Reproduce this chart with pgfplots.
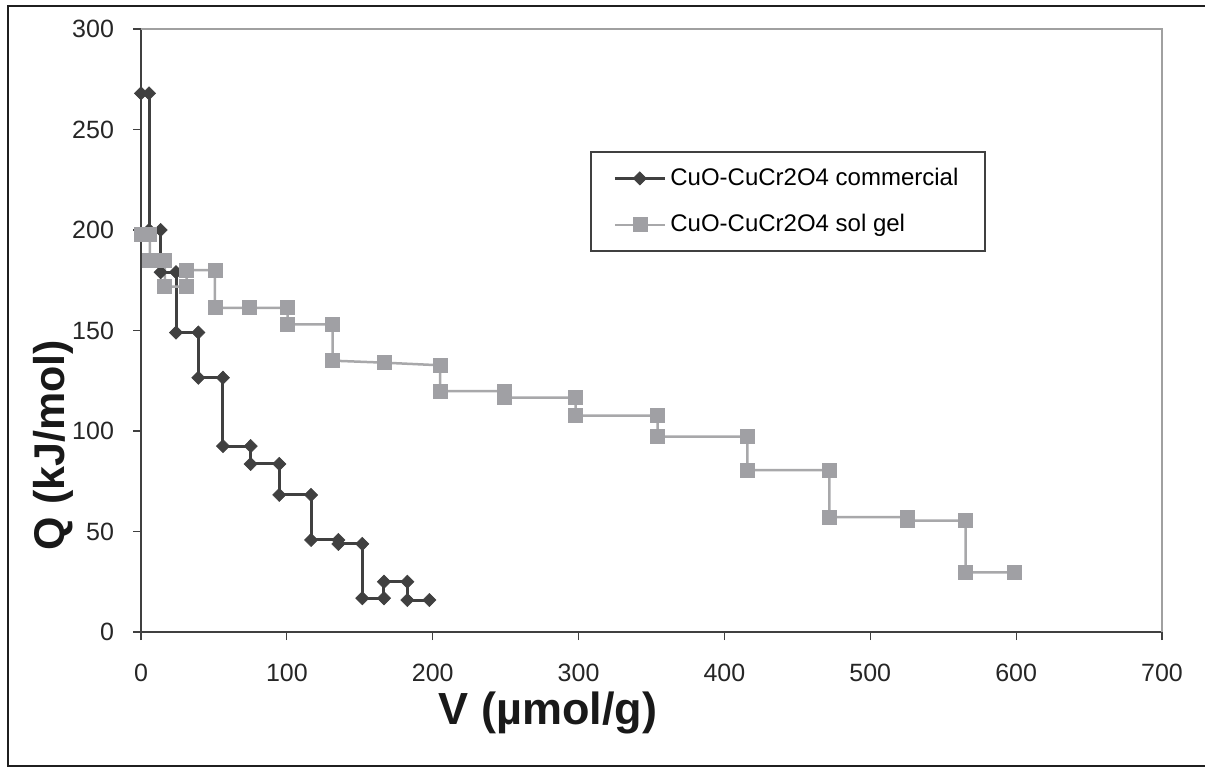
\documentclass[border=0pt]{standalone}
\usepackage{pgfplots}
\pgfplotsset{compat=1.18}
\usepackage{fontspec}
\setmainfont{Liberation Sans}
\definecolor{dark}{HTML}{404040}
\definecolor{lightm}{HTML}{A0A0A4}
\definecolor{lightl}{HTML}{A8A8AA}
\definecolor{framegray}{HTML}{A0A0A0}
\begin{document}
\begin{tikzpicture}
\useasboundingbox (0pt,0pt) rectangle (602.5pt,384pt);
\draw[line width=1.2pt, black!88] (4pt,1pt) rectangle (606pt,381pt);
\begin{axis}[
  at={(70.5pt,68pt)}, anchor=south west,
  scale only axis, width=510.5pt, height=301.5pt,
  xmin=0, xmax=700, ymin=0, ymax=300,
  xtick={0,100,...,700}, ytick={0,50,...,300},
  axis x line*=bottom, axis y line*=left,
  axis line style={-, draw=dark, line width=1pt},
  tick align=outside, major tick length=4pt,
  tick style={draw=dark, line width=0.6pt},
  minor tick num=0,
  /pgf/number format/assume math mode=true,
  ticklabel style={font=\fontsize{12.5}{14}\selectfont, text=black!85},
  xticklabel style={yshift=-8.5pt},
  yticklabel style={xshift=-6pt},
  clip=false,
  legend style={at={(rel axis cs:0.4407,0.803)}, anchor=north west, draw=none, fill=none,
    font=\fontsize{12}{14}\selectfont, row sep=9pt, inner xsep=11pt, inner ysep=8pt,
    cells={anchor=west}},
  legend image code/.code={\draw[mark repeat=2,mark phase=2] plot coordinates {(0pt,0pt) (12.5pt,0pt) (25pt,0pt)};},
]
\addplot[color=dark, line width=1.5pt, mark=diamond*, mark size=3.3pt, mark options={xscale=1.33, fill=dark, draw=dark, line width=0.3pt}]
coordinates {
(0,268) (5.5,268) (5.5,200) (13.5,200) (13.5,179) (24,179) (24,149) (39.3,149)
(39.3,126.5) (56.2,126.5) (56.2,92.5) (75.2,92.5) (75.2,83.6) (94.8,83.6) (94.8,68.2)
(116.6,68.2) (116.6,45.8) (135.3,45.8) (135.3,43.8) (151.7,43.8) (151.7,16.8)
(166.6,16.8) (166.6,25) (182.6,25) (182.6,15.9) (197.7,15.9)
};
\addlegendentry{CuO-CuCr2O4 commercial}
\addplot[color=lightl, line width=1.25pt, mark=square*, mark size=3.5pt, mark options={fill=lightm, draw=lightm, line width=0.3pt}]
coordinates {
(0,198) (6,198) (6,185) (16.3,185) (16.3,171.8) (31.3,171.8) (31.3,180) (50.7,180)
(50.7,161.3) (74,161.3) (100.5,161.3) (100.5,153) (131.3,153) (131.3,135)
(166.6,134) (205,132.7) (205,119.8) (249,119.8) (249,116.6) (298,116.6) (298,107.6)
(354.2,107.6) (354.2,97.2) (415.7,97.2) (415.7,80.6) (471.9,80.6) (471.9,57.2)
(525.4,57.2) (525.4,55.4) (565.4,55.4) (565.4,29.7) (598.5,29.7)
};
\addlegendentry{CuO-CuCr2O4 sol gel}
\draw[framegray, line width=1.1pt] (rel axis cs:0,1) -- (rel axis cs:1,1) -- (rel axis cs:1,0);
\end{axis}
\draw[dark, line width=0.7pt] (295.5pt,258.5pt) rectangle (492.5pt,308pt);
\node[anchor=center, font=\bfseries\fontsize{22.5}{25}\selectfont, text=black!90] at (274pt,27.5pt) {V (µmol/g)};
\node[anchor=center, rotate=90, font=\bfseries\fontsize{21.5}{24}\selectfont, text=black!90] at (26.5pt,161.5pt) {Q (kJ/mol)};
\end{tikzpicture}
\end{document}
